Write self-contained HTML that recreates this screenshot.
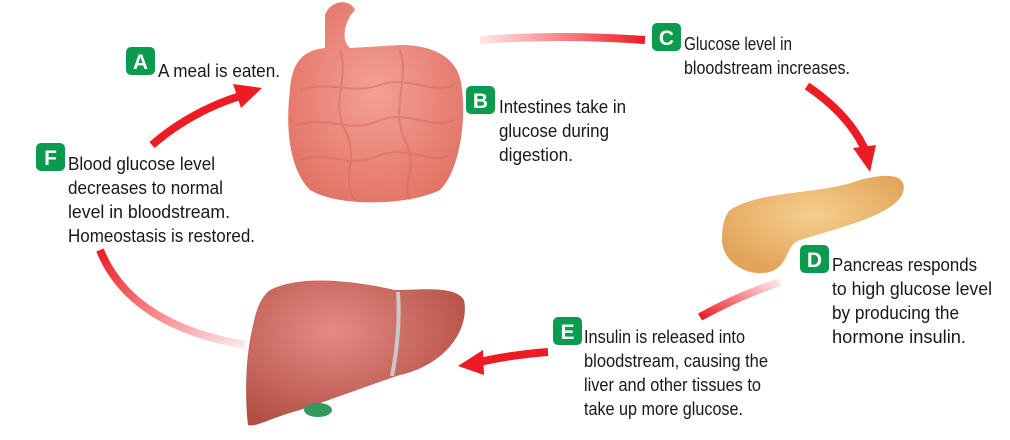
<!DOCTYPE html>
<html><head><meta charset="utf-8"><style>
html,body{margin:0;padding:0;background:#fff;}
svg{display:block;}
.t{font-family:"Liberation Sans Narrow","Liberation Sans",sans-serif;font-size:18px;fill:#1a1718;}
.b{font-family:"Liberation Sans Narrow","Liberation Sans",sans-serif;font-weight:bold;font-size:21px;fill:#fff;}
</style></head><body>
<svg width="1010" height="440" viewBox="0 0 1010 440" xmlns="http://www.w3.org/2000/svg">
<defs>
<linearGradient id="gc" x1="0" x2="1"><stop offset="0" stop-color="#ed1c24" stop-opacity="0.1"/><stop offset="1" stop-color="#ed1c24"/></linearGradient>
<linearGradient id="gd" x1="1" y1="0" x2="0" y2="1"><stop offset="0" stop-color="#ed1c24" stop-opacity="0.1"/><stop offset="1" stop-color="#ed1c24"/></linearGradient>
<linearGradient id="gf" x1="0" y1="0" x2="1" y2="1"><stop offset="0" stop-color="#ed1c24"/><stop offset="1" stop-color="#ed1c24" stop-opacity="0.1"/></linearGradient>
<radialGradient id="gi" cx="0.5" cy="0.45" r="0.6"><stop offset="0" stop-color="#f4a096"/><stop offset="1" stop-color="#e27466"/></radialGradient>
<radialGradient id="gp" cx="0.5" cy="0.4" r="0.6"><stop offset="0" stop-color="#f5cf8e"/><stop offset="1" stop-color="#e2a35a"/></radialGradient>
<radialGradient id="gl" cx="0.4" cy="0.35" r="0.7"><stop offset="0" stop-color="#e58a85"/><stop offset="1" stop-color="#b24f44"/></radialGradient>
</defs>

<!-- intestines -->
<path d="M325 15 C330 0 350 -2 355 10 C345 20 340 40 350 48 L400 45 C430 45 460 55 462 90 C466 120 460 170 440 190 C410 205 340 208 310 190 C290 170 285 130 290 90 C292 60 305 50 325 48 Z" fill="url(#gi)"/>
<g fill="none" stroke="#d8685a" stroke-width="2" opacity="0.5">
<path d="M300 90 C330 80 350 95 380 85 C410 75 430 95 455 85"/>
<path d="M295 125 C330 115 350 135 380 120 C410 110 430 130 455 120"/>
<path d="M300 160 C330 150 350 170 380 155 C410 145 430 165 450 155"/>
<path d="M340 50 C350 80 330 100 345 130 C360 160 340 180 355 200"/>
<path d="M400 50 C410 80 390 110 405 140 C420 170 400 185 410 200"/>
</g>

<!-- pancreas -->
<path d="M730 210 C760 190 820 195 860 180 C890 172 910 175 902 195 C890 215 850 225 800 240 C785 245 790 265 770 272 C745 278 722 260 722 240 C722 225 725 215 730 210 Z" fill="url(#gp)"/>

<!-- liver -->
<path d="M270 290 C300 275 350 280 395 290 C420 290 455 285 464 300 C470 330 445 365 400 375 C370 385 330 400 300 410 C270 418 255 428 248 425 C245 400 245 360 252 330 C256 310 260 298 270 290 Z" fill="url(#gl)"/>
<path d="M398 292 C400 320 397 350 392 376" stroke="#c9c9c9" stroke-width="4" fill="none"/>
<ellipse cx="318" cy="410" rx="14" ry="7" fill="#2f9a5e"/>

<!-- arrows -->
<path d="M480 40 Q560 34 645 40" stroke="url(#gc)" stroke-width="8" fill="none"/>
<path d="M152 145 Q190 112 240 96" stroke="#ed1c24" stroke-width="8" fill="none"/>
<path d="M233 84 L262 88 L241 108 Z" fill="#ed1c24"/>
<path d="M807 86 Q850 115 866 152" stroke="#ed1c24" stroke-width="8" fill="none"/>
<path d="M853 148 L870 172 L876 145 Z" fill="#ed1c24"/>
<path d="M548 352 Q510 355 480 362" stroke="#ed1c24" stroke-width="8" fill="none"/>
<path d="M483 350 L458 366 L484 375 Z" fill="#ed1c24"/>
<path d="M700 317 Q740 295 780 282" stroke="url(#gd)" stroke-width="8" fill="none"/>
<path d="M100 250 Q130 325 245 345" stroke="url(#gf)" stroke-width="8" fill="none"/>

<!-- badges -->
<g fill="#0a9b4f">
<rect x="126" y="47" width="29" height="28" rx="5"/>
<rect x="466" y="86" width="29" height="28" rx="5"/>
<rect x="652" y="23" width="29" height="28" rx="5"/>
<rect x="800" y="245" width="29" height="28" rx="5"/>
<rect x="553" y="317" width="29" height="28" rx="5"/>
<rect x="36" y="143" width="29" height="28" rx="5"/>
</g>
<text class="b" x="140.5" y="69" text-anchor="middle">A</text>
<text class="b" x="480.5" y="108" text-anchor="middle">B</text>
<text class="b" x="666.5" y="45" text-anchor="middle">C</text>
<text class="b" x="814.5" y="267" text-anchor="middle">D</text>
<text class="b" x="567.5" y="339" text-anchor="middle">E</text>
<text class="b" x="50.5" y="165" text-anchor="middle">F</text>

<g>
<text class="t" x="158" y="77" textLength="122" lengthAdjust="spacingAndGlyphs">A meal is eaten.</text>
<text class="t" x="499" y="113" textLength="127" lengthAdjust="spacingAndGlyphs">Intestines take in</text>
<text class="t" x="499" y="137" textLength="110" lengthAdjust="spacingAndGlyphs">glucose during</text>
<text class="t" x="499" y="161" textLength="74" lengthAdjust="spacingAndGlyphs">digestion.</text>
<text class="t" x="684" y="50" textLength="108" lengthAdjust="spacingAndGlyphs">Glucose level in</text>
<text class="t" x="684" y="74" textLength="166" lengthAdjust="spacingAndGlyphs">bloodstream increases.</text>
<text class="t" x="832" y="271" textLength="145" lengthAdjust="spacingAndGlyphs">Pancreas responds</text>
<text class="t" x="832" y="295" textLength="160" lengthAdjust="spacingAndGlyphs">to high glucose level</text>
<text class="t" x="832" y="319" textLength="127" lengthAdjust="spacingAndGlyphs">by producing the</text>
<text class="t" x="832" y="343" textLength="134" lengthAdjust="spacingAndGlyphs">hormone insulin.</text>
<text class="t" x="584" y="343" textLength="161" lengthAdjust="spacingAndGlyphs">Insulin is released into</text>
<text class="t" x="584" y="367" textLength="184" lengthAdjust="spacingAndGlyphs">bloodstream, causing the</text>
<text class="t" x="584" y="391" textLength="177" lengthAdjust="spacingAndGlyphs">liver and other tissues to</text>
<text class="t" x="584" y="415" textLength="159" lengthAdjust="spacingAndGlyphs">take up more glucose.</text>
<text class="t" x="68" y="170" textLength="147" lengthAdjust="spacingAndGlyphs">Blood glucose level</text>
<text class="t" x="68" y="194" textLength="155" lengthAdjust="spacingAndGlyphs">decreases to normal</text>
<text class="t" x="68" y="218" textLength="162" lengthAdjust="spacingAndGlyphs">level in bloodstream.</text>
<text class="t" x="68" y="242" textLength="187" lengthAdjust="spacingAndGlyphs">Homeostasis is restored.</text>
</g>
</svg>
</body></html>
